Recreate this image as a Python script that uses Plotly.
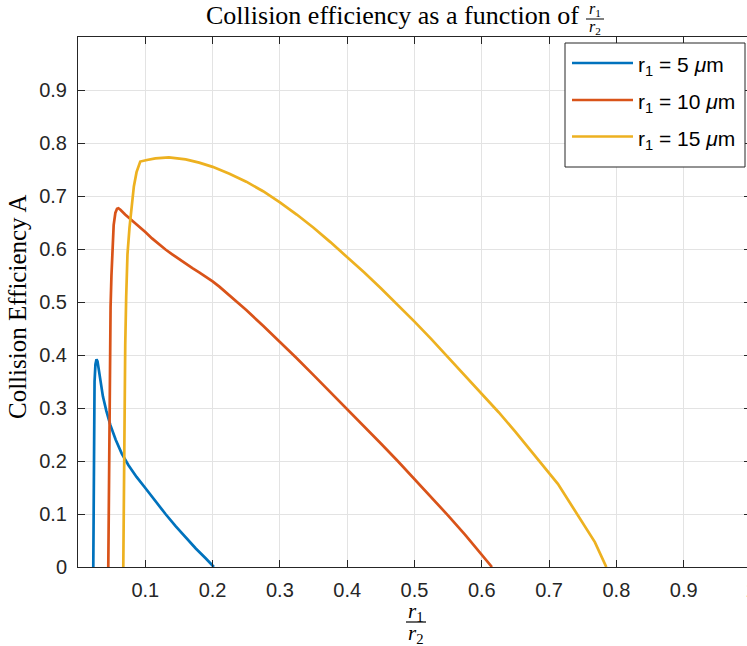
import plotly.graph_objects as go

# ---------------- data ----------------
x_r5 = [0.0227, 0.0231, 0.0237, 0.0246, 0.0259, 0.0275, 0.0290, 0.0310, 0.0340, 0.0370,
        0.0420, 0.0480, 0.0560, 0.0650, 0.0750, 0.0870, 0.1000, 0.1150, 0.1300, 0.1450,
        0.1600, 0.1750, 0.1900, 0.2019]
y_r5 = [0.000, 0.150, 0.280, 0.350, 0.382, 0.392, 0.388, 0.372, 0.345, 0.322,
        0.295, 0.268, 0.240, 0.214, 0.192, 0.170, 0.149, 0.124, 0.100, 0.077,
        0.055, 0.035, 0.016, 0.000]

x_r10 = [0.0450, 0.0458, 0.0467, 0.0476, 0.0484, 0.0497, 0.0510, 0.0530, 0.0555, 0.0580,
         0.0600, 0.0630, 0.0700, 0.0776, 0.0850, 0.0925, 0.1000, 0.1100, 0.1200, 0.1300,
         0.1400, 0.1500, 0.1600, 0.1700, 0.1800, 0.1900, 0.2000, 0.2100, 0.2250, 0.2500,
         0.2750, 0.3000, 0.3250, 0.3500, 0.3750, 0.4000, 0.4250, 0.4500, 0.4750, 0.5000,
         0.5250, 0.5500, 0.5750, 0.6000, 0.6151]
y_r10 = [0.000, 0.150, 0.300, 0.420, 0.490, 0.550, 0.600, 0.645, 0.668, 0.676,
         0.677, 0.674, 0.665, 0.657, 0.649, 0.641, 0.632, 0.620, 0.609, 0.599,
         0.590, 0.581, 0.572, 0.564, 0.556, 0.548, 0.539, 0.529, 0.513, 0.485,
         0.455, 0.425, 0.394, 0.362, 0.330, 0.298, 0.266, 0.233, 0.200, 0.166,
         0.132, 0.097, 0.061, 0.024, 0.000]

x_r15 = [0.0673, 0.0680, 0.0690, 0.0702, 0.0716, 0.0735, 0.0765, 0.0795, 0.0830, 0.0870,
         0.0925, 0.1025, 0.1150, 0.1350, 0.1600, 0.1800, 0.2000, 0.2250, 0.2500, 0.2750,
         0.3000, 0.3250, 0.3500, 0.3750, 0.4000, 0.4250, 0.4500, 0.4750, 0.5000, 0.5250,
         0.5500, 0.5750, 0.6000, 0.6250, 0.6500, 0.6660, 0.7130, 0.7680, 0.7850]
y_r15 = [0.000, 0.150, 0.300, 0.420, 0.510, 0.590, 0.640, 0.680, 0.718, 0.745,
         0.765, 0.768, 0.771, 0.773, 0.769, 0.763, 0.755, 0.742, 0.727, 0.709,
         0.688, 0.665, 0.640, 0.613, 0.585, 0.556, 0.526, 0.495, 0.463, 0.430,
         0.396, 0.362, 0.327, 0.292, 0.255, 0.230, 0.157, 0.047, 0.000]

series_names = ["r<sub>1</sub> = 5 <i>μ</i>m", "r<sub>1</sub> = 10 <i>μ</i>m", "r<sub>1</sub> = 15 <i>μ</i>m"]
series_colors = ["#0072BD", "#D95319", "#EDB120"]

x_ticks = [0.1, 0.2, 0.3, 0.4, 0.5, 0.6, 0.7, 0.8, 0.9, 1.0]
x_ticktext = ["0.1", "0.2", "0.3", "0.4", "0.5", "0.6", "0.7", "0.8", "0.9", "1"]
y_ticks = [0, 0.1, 0.2, 0.3, 0.4, 0.5, 0.6, 0.7, 0.8, 0.9, 1.0]
y_ticktext = ["0", "0.1", "0.2", "0.3", "0.4", "0.5", "0.6", "0.7", "0.8", "0.9", ""]

# ---------------- layout geometry ----------------
W, H = 774, 646
L, R, T, B = 78, 23, 37, 79
PW, PH = W - L - R, H - T - B


def px(xp):
    return (xp - L) / PW


def py(yp):
    return (H - B - yp) / PH


SERIF = "Liberation Serif"
SANS = "Liberation Sans"
AX = "#262626"

fig = go.Figure()
for xs, ys, name, col in zip([x_r5, x_r10, x_r15], [y_r5, y_r10, y_r15], series_names, series_colors):
    fig.add_trace(go.Scatter(x=xs, y=ys, mode="lines", name=name,
                             line=dict(color=col, width=2.7), showlegend=False))

axis_common = dict(showline=True, linecolor=AX, linewidth=1, mirror="ticks",
                   ticks="inside", ticklen=7, tickcolor=AX, tickwidth=1,
                   showgrid=True, gridcolor="#e3e3e3", gridwidth=1, zeroline=False,
                   tickfont=dict(family=SANS, size=20, color=AX))

fig.update_xaxes(range=[0, 1], tickmode="array", tickvals=x_ticks, ticktext=x_ticktext,
                 ticklabelstandoff=5, **axis_common)
fig.update_yaxes(range=[0, 1], tickmode="array", tickvals=y_ticks, ticktext=y_ticktext,
                 ticklabelstandoff=6, **axis_common)

ann = []
shapes = []
# title
ann.append(dict(text="Collision efficiency as a function of", x=px(581), y=py(16),
                xref="paper", yref="paper", xanchor="right", yanchor="middle", showarrow=False,
                font=dict(family=SERIF, size=26, color="black")))
ann.append(dict(text="<i>r</i><sub>1</sub>", x=px(595), y=py(10), xref="paper", yref="paper",
                xanchor="center", yanchor="middle", showarrow=False,
                font=dict(family=SERIF, size=16, color="black")))
ann.append(dict(text="<i>r</i><sub>2</sub>", x=px(595), y=py(28), xref="paper", yref="paper",
                xanchor="center", yanchor="middle", showarrow=False,
                font=dict(family=SERIF, size=16, color="black")))
shapes.append(dict(type="line", xref="paper", yref="paper", x0=px(586), x1=px(604),
                   y0=py(19), y1=py(19), line=dict(color="black", width=1)))
# x label
ann.append(dict(text="<i>r</i><sub>1</sub>", x=px(416), y=py(612), xref="paper", yref="paper",
                xanchor="center", yanchor="middle", showarrow=False,
                font=dict(family=SERIF, size=21, color="black")))
ann.append(dict(text="<i>r</i><sub>2</sub>", x=px(416), y=py(634), xref="paper", yref="paper",
                xanchor="center", yanchor="middle", showarrow=False,
                font=dict(family=SERIF, size=21, color="black")))
shapes.append(dict(type="line", xref="paper", yref="paper", x0=px(406), x1=px(426),
                   y0=py(622), y1=py(622), line=dict(color="black", width=1.2)))
# y label
ann.append(dict(text="Collision Efficiency A", x=px(17), y=py(307), xref="paper", yref="paper",
                xanchor="center", yanchor="middle", textangle=-90, showarrow=False,
                font=dict(family=SERIF, size=25, color="black")))

# legend box
shapes.append(dict(type="rect", xref="paper", yref="paper", x0=px(565), x1=px(745),
                   y0=py(167), y1=py(43), fillcolor="white", line=dict(color=AX, width=1),
                   layer="above"))
leg_y = [63, 100, 136.5]
for name, col, ly in zip(series_names, series_colors, leg_y):
    shapes.append(dict(type="line", xref="paper", yref="paper", x0=px(572), x1=px(633),
                       y0=py(ly), y1=py(ly), line=dict(color=col, width=2.7), layer="above"))
    ann.append(dict(text=name, x=px(636), y=py(ly + 3), xref="paper", yref="paper",
                    xanchor="left", yanchor="middle", showarrow=False,
                    font=dict(family=SANS, size=21, color="black")))

fig.update_layout(width=W, height=H, margin=dict(l=L, r=R, t=T, b=B, autoexpand=False),
                  paper_bgcolor="white", plot_bgcolor="white",
                  annotations=ann, shapes=shapes, showlegend=False)

fig.write_html("out.html",
               post_script="document.documentElement.style.overflow='hidden';document.body.style.overflow='hidden';document.body.style.margin='0';")
